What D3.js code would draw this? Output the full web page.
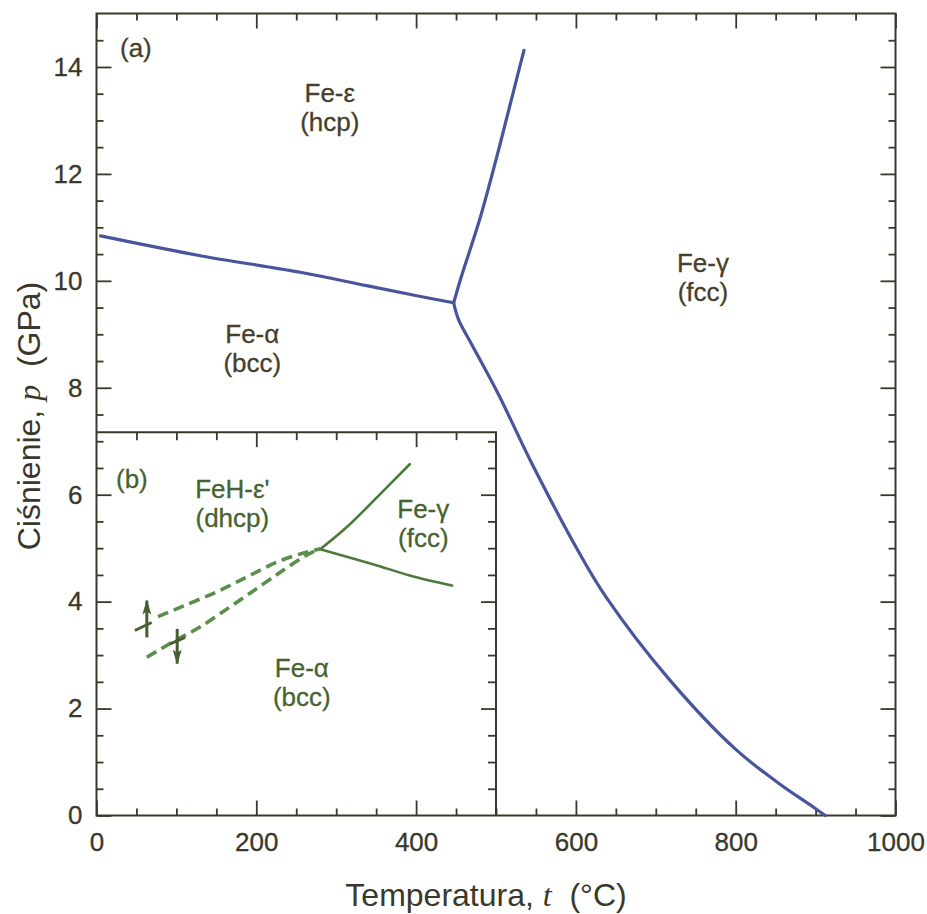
<!DOCTYPE html>
<html>
<head>
<meta charset="utf-8">
<script src="https://cdn.jsdelivr.net/npm/d3@7"></script>
<style>
    html, body { margin: 0; padding: 0; background: #fff; }
    svg text { font-family: "Liberation Sans", Arial, sans-serif; white-space: pre; }
</style>
</head>
<body>
<svg id="chart" width="927" height="914"></svg>
<script>
// (a) pure iron, t in °C, p in GPa
var alphaEpsilon = [[5, 10.84], [130, 10.47], [255, 10.16], [338, 9.91], [401, 9.72], [447, 9.59]];
var epsilonGamma = [[447, 9.59], [456, 10.05], [480, 11.17], [505, 12.55], [522, 13.55], [535, 14.31]];
var alphaGamma = [[447, 9.59], [453, 9.28], [470, 8.8], [503, 7.88], [543, 6.64], [605, 4.89], [638, 4.08],
    [716, 2.56], [799, 1.25], [855, 0.59], [897, 0.16], [912, 0]];

// (b) inset, Fe-H
var insetUpper = [[280, 4.98], [313, 5.39], [351, 5.95], [392, 6.57]];
var insetLower = [[280, 4.98], [346, 4.70], [392, 4.49], [445, 4.30]];
var dashUpper = [[77, 3.72], [109, 3.92], [150, 4.18], [188, 4.46], [226, 4.74], [259, 4.91], [280, 4.99]];
var dashLower = [[63, 2.96], [96, 3.25], [130, 3.53], [167, 3.90], [201, 4.25], [234, 4.59], [263, 4.87], [280, 4.99]];
var stubUpper = [[48, 3.46], [69, 3.61]];
var stubLower = [[92, 3.21], [111, 3.33]];
var arrowUp = [[63, 3.33], [63, 4.02]];
var arrowDown = [[101, 3.49], [101, 2.84]];
var insetCorner = [500, 7.17];

var xMajor = [0, 200, 400, 600, 800, 1000];
var yMajor = [0, 2, 4, 6, 8, 10, 12, 14];

var mainLabels = [
    { t: 292, p: 13.34, l1: "Fe-\u03b5", l2: "(hcp)" },
    { t: 195, p: 8.84, l1: "Fe-\u03b1", l2: "(bcc)" },
    { t: 759, p: 10.16, l1: "Fe-\u03b3", l2: "(fcc)" }
];
var insetLabels = [
    { t: 170, p: 5.94, l1: "FeH-\u03b5'", l2: "(dhcp)" },
    { t: 409, p: 5.56, l1: "Fe-\u03b3", l2: "(fcc)" },
    { t: 257, p: 2.59, l1: "Fe-\u03b1", l2: "(bcc)" }
];

(function () {
    var svg = d3.select("#chart");
    var ink = "#3a382b", blue = "#48559a", green = "#4d7a3b", greenDash = "#5a8e4a", greenDark = "#475f2e";

    var x = d3.scaleLinear().domain([0, 1000]).range([96.5, 895.5]);
    var y = d3.scaleLinear().domain([0, 15]).range([815.5, 13.5]);

    var xMinor = d3.range(50, 1000, 50).filter(function (d) { return xMajor.indexOf(d) < 0; });
    var yMinor = d3.range(0.5, 15, 0.5).filter(function (d) { return yMajor.indexOf(d) < 0; });

    function tidy(g) {
        g.select(".domain").remove();
        g.selectAll(".tick line").attr("stroke", ink).attr("stroke-width", 1.8);
        g.selectAll(".tick text").attr("fill", ink).attr("stroke", ink).attr("stroke-width", 0.3)
            .style("font-size", "26px")
            .style("font-family", "'Liberation Sans', Arial, sans-serif");
    }

    // bottom / top
    svg.append("g").attr("transform", "translate(0," + y(0) + ")")
        .call(d3.axisBottom(x).tickValues(xMajor).tickSize(-15).tickPadding(17).tickFormat(d3.format("d")))
        .call(tidy);
    svg.append("g").attr("transform", "translate(0," + y(0) + ")")
        .call(d3.axisBottom(x).tickValues(xMinor).tickSize(-7).tickFormat("")).call(tidy);
    svg.append("g").attr("transform", "translate(0," + y(15) + ")")
        .call(d3.axisTop(x).tickValues(xMajor).tickSize(-15).tickFormat("")).call(tidy);
    svg.append("g").attr("transform", "translate(0," + y(15) + ")")
        .call(d3.axisTop(x).tickValues(xMinor).tickSize(-7).tickFormat("")).call(tidy);

    // left / right
    svg.append("g").attr("transform", "translate(" + x(0) + ",0)")
        .call(d3.axisLeft(y).tickValues(yMajor).tickSize(-15).tickPadding(14).tickFormat(d3.format("d")))
        .call(tidy);
    svg.append("g").attr("transform", "translate(" + x(0) + ",0)")
        .call(d3.axisLeft(y).tickValues(yMinor).tickSize(-7).tickFormat("")).call(tidy);
    svg.append("g").attr("transform", "translate(" + x(1000) + ",0)")
        .call(d3.axisRight(y).tickValues(yMajor).tickSize(-15).tickFormat("")).call(tidy);
    svg.append("g").attr("transform", "translate(" + x(1000) + ",0)")
        .call(d3.axisRight(y).tickValues(yMinor).tickSize(-7).tickFormat("")).call(tidy);

    svg.append("rect")
        .attr("x", x(0)).attr("y", y(15))
        .attr("width", x(1000) - x(0)).attr("height", y(0) - y(15))
        .attr("fill", "none").attr("stroke", ink).attr("stroke-width", 2);

    // inset frame and its ticks
    var xIn = d3.scaleLinear().domain([0, insetCorner[0]]).range([x(0), x(insetCorner[0])]);
    var yIn = d3.scaleLinear().domain([0, insetCorner[1]]).range([y(0), y(insetCorner[1])]);
    var inTop = xMinor.concat(xMajor).filter(function (d) { return d > 0 && d < insetCorner[0]; });
    var inRight = yMinor.concat(yMajor).filter(function (d) { return d > 0 && d < insetCorner[1]; });

    svg.append("g").attr("transform", "translate(0," + yIn(insetCorner[1]) + ")")
        .call(d3.axisBottom(xIn).tickValues(inTop).tickFormat("").tickSize(8)).call(tidy)
        .selectAll(".tick line").attr("y2", function (d) { return xMajor.indexOf(d) >= 0 ? 15 : 8; });
    svg.append("g").attr("transform", "translate(" + xIn(insetCorner[0]) + ",0)")
        .call(d3.axisLeft(yIn).tickValues(inRight).tickFormat("").tickSize(8)).call(tidy)
        .selectAll(".tick line").attr("x2", function (d) { return yMajor.indexOf(d) >= 0 ? -15 : -8; });

    svg.append("path")
        .attr("d", d3.line()([[x(0), y(insetCorner[1])], [x(insetCorner[0]), y(insetCorner[1])], [x(insetCorner[0]), y(0)]]))
        .attr("fill", "none").attr("stroke", ink).attr("stroke-width", 2);

    var line = d3.line()
        .x(function (d) { return x(d[0]); })
        .y(function (d) { return y(d[1]); })
        .curve(d3.curveCatmullRom.alpha(0.5));
    var straight = d3.line()
        .x(function (d) { return x(d[0]); })
        .y(function (d) { return y(d[1]); });

    // main boundaries
    [alphaEpsilon, epsilonGamma, alphaGamma].forEach(function (s) {
        svg.append("path").attr("d", line(s))
            .attr("fill", "none").attr("stroke", blue).attr("stroke-width", 3.2)
            .attr("stroke-linejoin", "round").attr("stroke-linecap", "round");
    });

    // inset boundaries
    [insetUpper, insetLower].forEach(function (s) {
        svg.append("path").attr("d", line(s))
            .attr("fill", "none").attr("stroke", green).attr("stroke-width", 2.6)
            .attr("stroke-linecap", "round");
    });
    [dashUpper, dashLower].forEach(function (s) {
        svg.append("path").attr("d", line(s))
            .attr("fill", "none").attr("stroke", greenDash).attr("stroke-width", 3.6)
            .attr("stroke-dasharray", "11,6");
    });
    [stubUpper, stubLower].forEach(function (s) {
        svg.append("path").attr("d", straight(s))
            .attr("fill", "none").attr("stroke", greenDark).attr("stroke-width", 3);
    });

    svg.append("defs").append("marker")
        .attr("id", "head").attr("viewBox", "0 0 15 10")
        .attr("refX", 14).attr("refY", 5)
        .attr("markerWidth", 15).attr("markerHeight", 10)
        .attr("markerUnits", "userSpaceOnUse")
        .attr("orient", "auto")
        .append("path").attr("d", "M0,0.5L15,5L0,9.5L3,5z").attr("fill", greenDark);

    [arrowUp, arrowDown].forEach(function (s) {
        svg.append("path").attr("d", straight(s))
            .attr("fill", "none").attr("stroke", greenDark).attr("stroke-width", 3)
            .attr("marker-end", "url(#head)");
    });

    // region labels
    function phase(list, color) {
        var g = svg.append("g").attr("fill", color).attr("stroke", color).attr("stroke-width", 0.3)
            .style("font-size", "26px").attr("text-anchor", "middle");
        list.forEach(function (d) {
            g.append("text").attr("x", x(d.t)).attr("y", y(d.p)).text(d.l1);
            g.append("text").attr("x", x(d.t)).attr("y", y(d.p) + 29).text(d.l2);
        });
    }
    phase(mainLabels, "#463f2c");
    phase(insetLabels, "#46632f");

    svg.append("text").attr("x", 120).attr("y", 57).attr("fill", "#463f2c")
        .attr("stroke", "#463f2c").attr("stroke-width", 0.3)
        .style("font-size", "26px").text("(a)");
    svg.append("text").attr("x", 116).attr("y", 488).attr("fill", "#46632f")
        .attr("stroke", "#46632f").attr("stroke-width", 0.3)
        .style("font-size", "26px").text("(b)");

    // axis titles
    var xt = svg.append("text").attr("x", 486).attr("y", 906)
        .attr("text-anchor", "middle").attr("fill", ink).style("font-size", "32px");
    xt.append("tspan").text("Temperatura, ");
    xt.append("tspan").style("font-family", "'Liberation Serif', serif").style("font-style", "italic").text("t");
    xt.append("tspan").text("  (\u00b0C)");

    var yt = svg.append("text").attr("transform", "translate(40,416) rotate(-90)")
        .attr("text-anchor", "middle").attr("fill", ink).style("font-size", "32px");
    yt.append("tspan").text("Ci\u015bnienie, ");
    yt.append("tspan").style("font-family", "'Liberation Serif', serif").style("font-style", "italic").text("p");
    yt.append("tspan").text("  (GPa)");
})();
</script>
</body>
</html>
